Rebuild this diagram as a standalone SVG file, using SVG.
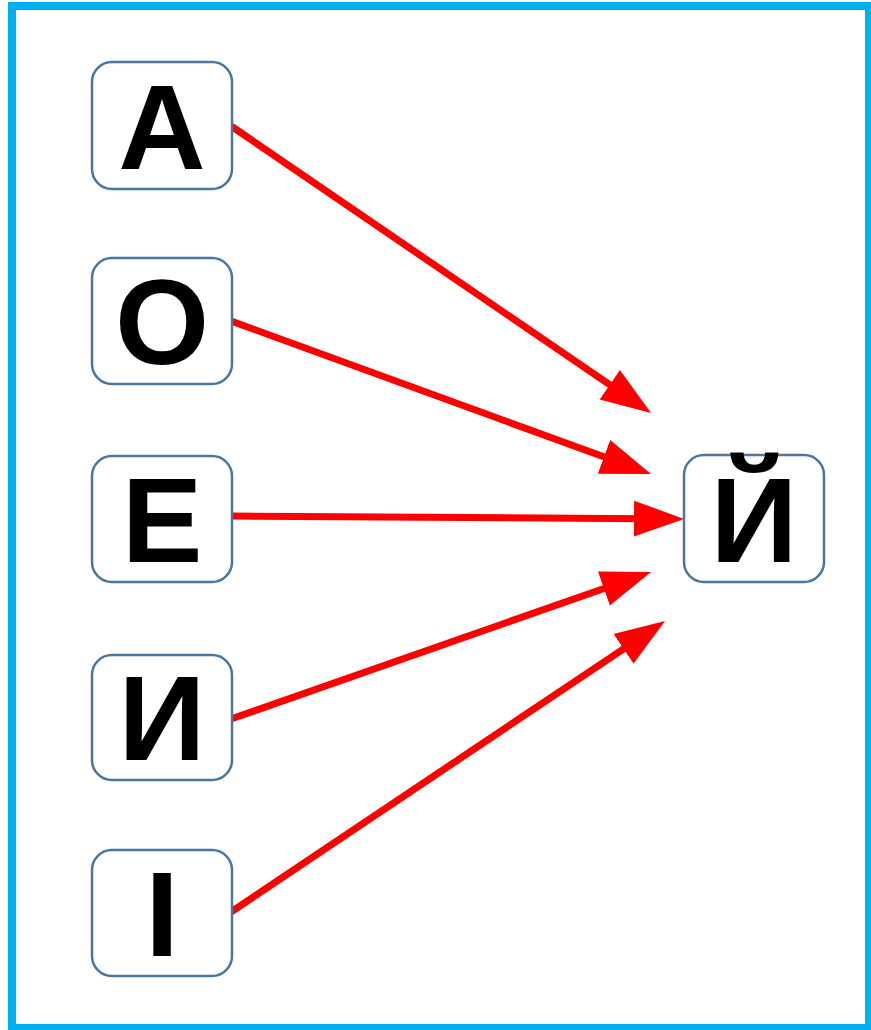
<svg xmlns="http://www.w3.org/2000/svg" width="871" height="1030" viewBox="0 0 871 1030">
<style>
.node rect{fill:#fff;stroke:#4a76a0;stroke-width:2.5}
.node text{font-family:"Liberation Sans",Arial,sans-serif;font-weight:bold;font-size:121px;text-anchor:middle;fill:#000}
.edge{stroke:#ff0000;stroke-width:7;fill:none}
</style>
<defs>
<marker id="ah" markerUnits="userSpaceOnUse" markerWidth="52" markerHeight="38" refX="10" refY="18" orient="auto" viewBox="0 0 52 36">
<path d="M0,0 L50,18 L0,36 z" fill="#ff0000"/>
</marker>
</defs>
<rect x="12" y="6" width="857" height="1022" fill="#fff" stroke="#00b0f0" stroke-width="8"/>
<g id="connectors">
<line class="edge" x1="231" y1="126" x2="618" y2="390.4" marker-end="url(#ah)"/>
<line class="edge" x1="231" y1="321" x2="613.4" y2="460.3" marker-end="url(#ah)"/>
<line class="edge" x1="231" y1="516" x2="644" y2="518.7" marker-end="url(#ah)"/>
<line class="edge" x1="231" y1="719" x2="613.3" y2="585.2" marker-end="url(#ah)"/>
<line class="edge" x1="231" y1="912" x2="631.8" y2="643.3" marker-end="url(#ah)"/>
</g>
<g id="node-A" class="node"><rect x="92" y="62" width="140" height="127" rx="20"/><text x="162" y="169">А</text></g>
<g id="node-O" class="node"><rect x="92" y="258" width="140" height="126" rx="20"/><text x="162" y="364">О</text></g>
<g id="node-E" class="node"><rect x="92" y="456" width="140" height="126" rx="20"/><text x="162" y="562">Е</text></g>
<g id="node-I" class="node"><rect x="92" y="655" width="140" height="125" rx="20"/><text x="162" y="760">И</text></g>
<g id="node-Iukr" class="node"><rect x="92" y="850" width="140" height="126" rx="20"/><text x="162" y="956">І</text></g>
<g id="node-Y" class="node"><rect x="684" y="455" width="140" height="127" rx="20"/><text x="754" y="562">Й</text></g>
</svg>
